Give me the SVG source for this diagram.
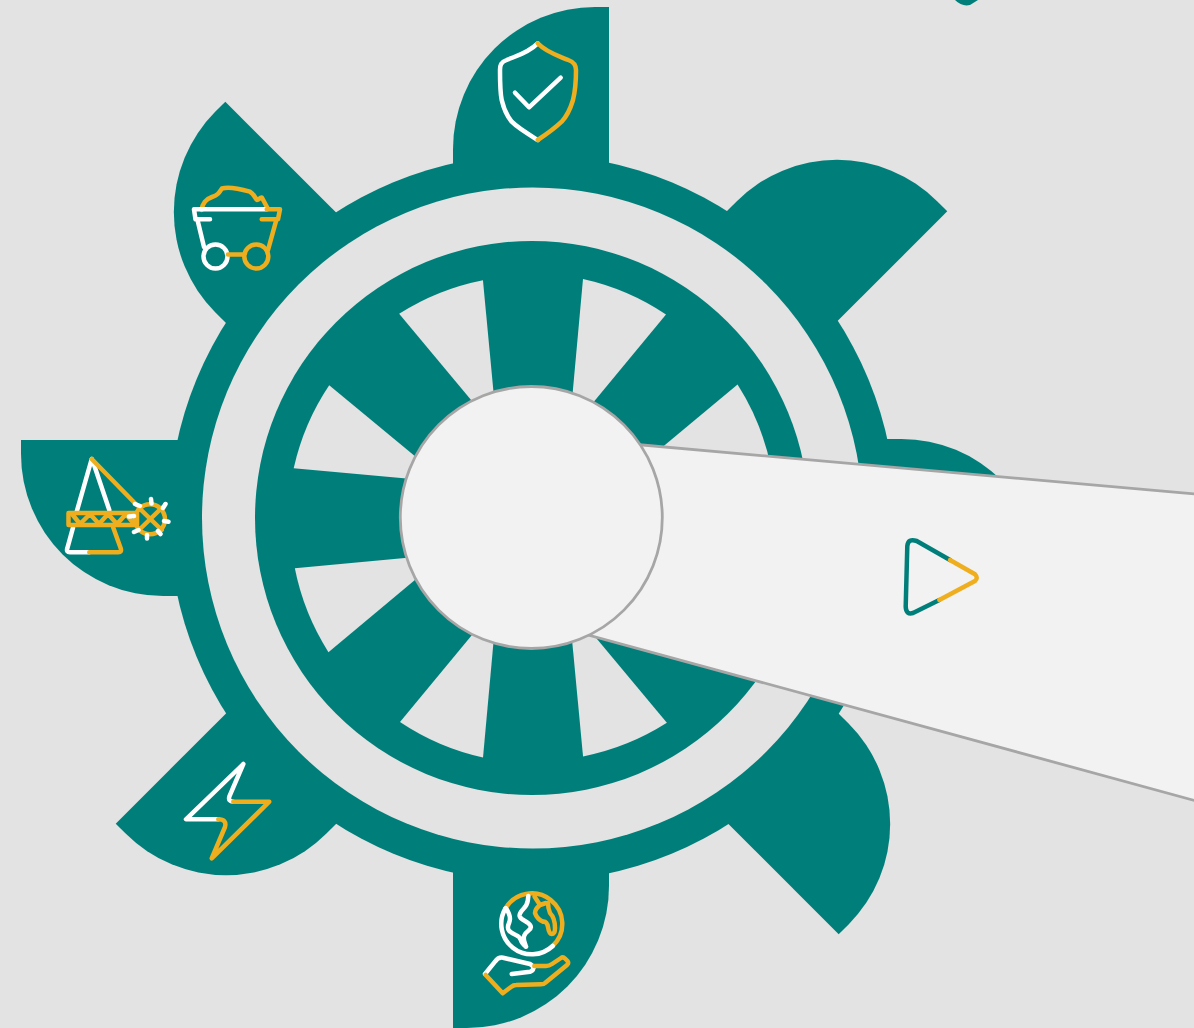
<svg xmlns="http://www.w3.org/2000/svg" width="1194" height="1028" viewBox="0 0 1194 1028">
<style>
.teal{fill:#007F7A}
.bg{fill:#E3E3E3}
.w,.o,.t{fill:none;stroke-width:4.500;stroke-linecap:round;stroke-linejoin:round}
.w{stroke:#fff}
.o{stroke:#EFAE1E}
.t{stroke:#007F7A}
.edge{fill:#F2F2F2;stroke:#A6A6A6;stroke-width:2.800}
</style>
<defs>
<path id="petal" d="M453 175V149A142 142 0 0 1 595 7H609V175Z"/>
<path id="hole" d="M583 279A244 244 0 0 1 666 314.500L587 410L572 400Z"/>
</defs>
<rect class="bg" width="1194" height="1028"/>
<path class="teal" d="M955 0Q962 7 970 5L978 0Z"/>
<g id="gear">
<g class="teal">
<use href="#petal"/>
<use href="#petal" transform="rotate(45 531.500 517.500)"/>
<use href="#petal" transform="translate(1.500 0) rotate(90 531.500 517.500)"/>
<use href="#petal" transform="translate(1 1) rotate(135 531.500 517.500)"/>
<use href="#petal" transform="translate(-1 0) rotate(180 531.500 517.500)"/>
<use href="#petal" transform="rotate(225 531.500 517.500)"/>
<use href="#petal" transform="rotate(270 531.500 517.500)"/>
<use href="#petal" transform="rotate(315 531.500 517.500)"/>
<circle cx="532.500" cy="518" r="363.500"/>
</g>
<circle class="bg" cx="532.500" cy="518" r="330.500"/>
<circle class="teal" cx="532" cy="518" r="277"/>
<g class="bg">
<use href="#hole"/>
<use href="#hole" transform="rotate(45 533 518.300)"/>
<use href="#hole" transform="rotate(90 533 518.300)"/>
<use href="#hole" transform="rotate(135 533 518.300)"/>
<use href="#hole" transform="rotate(180 533 518.300)"/>
<use href="#hole" transform="rotate(225 533 518.300)"/>
<use href="#hole" transform="rotate(270 533 518.300)"/>
<use href="#hole" transform="rotate(315 533 518.300)"/>
</g>
</g>
<g id="panel">
<path class="edge" d="M620 443L1200 494.500V802L570 630Z"/>
<circle class="edge" cx="531.300" cy="517.500" r="131"/>
</g>
<g id="icon-shield">
<path class="w" d="M537.700 43.300C528 53 516 56 506.700 60C501 62 500 65 500 70C500 82 500 92 501.700 100C504 110 507 116 511.700 121.700C518 128 528 134 537.700 140"/>
<path class="o" d="M537.700 43.300C547 53 559 56 568.300 60C574 62 576 65 576 70C576 82 575 92 573 100C570 110 567 116 561.700 121.700C555 128 547 134 537.700 140"/>
<path class="w" d="M515 92.700L529 107.300L560.700 77.700"/>
</g>
<g id="icon-cart">
<path class="o" d="M201.700 210C202 204 206 199 212 197C218 195 219 193 222 188.500C230 186 244 190 250 191.700C254 194 255 198 257 200C259 200 260 197 262 197.700L268 209"/>
<path class="w" d="M194 209.300H266.700M194 209.300L195.500 219.300H210M197.500 220L204 247"/>
<circle class="w" cx="215.500" cy="256.500" r="12"/>
<circle class="o" cx="256.300" cy="256.500" r="12"/>
<path class="o" d="M228 254.500H243M266.700 209.300H280L278 219.300H261.700M276.500 219.300L268 250"/>
</g>
<g id="icon-excavator">
<path class="w" d="M91.700 459L76.700 511.700M73 527.700L67.300 548.300Q66 552.300 70 552.300H89.300M93 461.700L109.300 510"/>
<path class="o" d="M91.700 459L136.700 505M89.300 552.300H118.300Q122 552.300 120.700 548.300L113.300 527.700"/>
<path class="o" stroke-width="5.500" d="M68.500 513H137V525H68.500Z"/>
<path class="o" d="M72 514L80 524L90 514L99 524L108 514L117 524L126 514L134 524"/>
<circle class="o" cx="150" cy="519.300" r="15"/>
<path class="o" d="M139 508L161.700 530M161.700 508L139 530"/>
<path class="w" d="M135 504L140 506M151 499L151.500 503.500M165.500 504L163 508M168.500 521.700L164 521M160.500 534L158 531M147 538.500L147 535M134 532L138.500 530M129 516.500L134 516"/>
</g>
<g id="icon-bolt">
<path class="w" d="M243.300 764L186 819.300H218.300M243.300 764L229.300 796.700Q228 801.700 233.300 801.700"/>
<path class="o" d="M233.300 801.700H269.300L211.700 858.300L225 827Q227 819.300 218.300 819.300"/>
</g>
<g id="icon-globe">
<path class="o" d="M505.400 908.500A30.500 30.500 0 1 1 552.700 946"/>
<path class="w" d="M505.400 908.500A30.500 30.500 0 0 0 552.700 946"/>
<path class="w" d="M528.300 896L527.800 900.500Q527.300 905 523.300 909Q519.300 913.300 519.600 915.800Q520 918.300 524.600 920.800Q529.300 923.300 530.500 925.800Q531.700 928.300 528.300 930.800Q525 933.300 524.200 935.800Q523.300 938.300 524.600 942.500L526 946.700M506 908.300Q511.700 916.700 509.200 922.500Q506.700 928.300 509.200 930.800Q511.700 933.300 515.800 935Q520 936.700 520.800 940Q521.700 943.300 526 946.700"/>
<path class="o" d="M534.500 896.500L540 905Q535 909 535 913Q537 919 543 921.700Q547 921 548 927Q549 934 551.700 934Q555 934 555 928Q555 918 550 913Q548 908 548 903M540 905L546 903"/>
<path class="w" d="M485 974L495 961.700Q498 957 503 957.700L530 964Q535 967 533.300 968.300Q533 971 530 971.700L511.700 974"/>
<path class="o" d="M534.300 966H546Q549 966 552 964L561 958Q563 956.500 565 958.500L567.500 961Q569 963 567 965L545 983Q544 984.300 541 984.300L516 985Q513.500 985 511 987L502.700 993.300L485.700 975"/>
</g>
<g id="icon-play">
<path class="t" d="M950 560L916.700 541Q908 538 907.300 546L905.700 606.700Q906 615 913 613L939.300 600"/>
<path class="o" d="M950 560L975 574.300Q978.500 578 975 581L939.300 600"/>
</g>
</svg>
